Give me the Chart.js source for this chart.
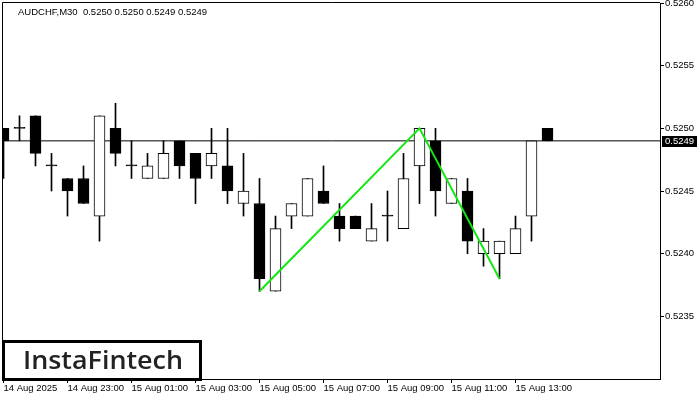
<!DOCTYPE html>
<html>
<head>
<meta charset="utf-8">
<script src="https://cdn.jsdelivr.net/npm/chart.js@4.4.1/dist/chart.umd.min.js"></script>
<style>
  html, body { margin: 0; padding: 0; background: #fff; }
  #wrap { width: 700px; height: 400px; }
</style>
</head>
<body>
<div id="wrap"><canvas id="candleChart" width="700" height="400"></canvas></div>
<script>
// AUDCHF M30 candles, 14 Aug 21:00 .. 15 Aug 14:00
const symbol = 'AUDCHF';
const period = 'M30';
const opens  = [0.5250, 0.5250, 0.5251, 0.5247, 0.5246, 0.5246, 0.5243, 0.5250, 0.5247, 0.5246,
                0.5246, 0.5249, 0.5248, 0.5247, 0.5247, 0.5244, 0.5244, 0.5237, 0.5243, 0.5243,
                0.5245, 0.5243, 0.5243, 0.5241, 0.5243, 0.5242, 0.5247, 0.5249, 0.5244, 0.5245,
                0.5240, 0.5240, 0.5240, 0.5243, 0.5250];
const highs  = [0.5250, 0.5251, 0.5251, 0.5248, 0.5246, 0.5247, 0.5251, 0.5252, 0.5249, 0.5248,
                0.5249, 0.5249, 0.5248, 0.5250, 0.5250, 0.5248, 0.5246, 0.5243, 0.5244, 0.5246,
                0.5247, 0.5244, 0.5243, 0.5244, 0.5245, 0.5248, 0.5250, 0.5250, 0.5246, 0.5246,
                0.5242, 0.5241, 0.5243, 0.5249, 0.5250];
const lows   = [0.5246, 0.5249, 0.5247, 0.5245, 0.5243, 0.5244, 0.5241, 0.5247, 0.5246, 0.5246,
                0.5246, 0.5246, 0.5244, 0.5246, 0.5244, 0.5243, 0.5237, 0.5237, 0.5242, 0.5243,
                0.5244, 0.5241, 0.5242, 0.5241, 0.5241, 0.5242, 0.5244, 0.5243, 0.5244, 0.5240,
                0.5239, 0.5238, 0.5240, 0.5241, 0.5249];
const closes = [0.5249, 0.5250, 0.5248, 0.5247, 0.5245, 0.5244, 0.5251, 0.5248, 0.5247, 0.5247,
                0.5248, 0.5247, 0.5246, 0.5248, 0.5245, 0.5245, 0.5238, 0.5242, 0.5244, 0.5246,
                0.5244, 0.5242, 0.5242, 0.5242, 0.5243, 0.5246, 0.5250, 0.5245, 0.5246, 0.5241,
                0.5241, 0.5241, 0.5242, 0.5249, 0.5249];

const tickIndex  = [0, 4, 8, 12, 16, 20, 24, 28, 32];
const tickLabels = ['14 Aug 2025', '14 Aug 23:00', '15 Aug 01:00', '15 Aug 03:00', '15 Aug 05:00',
                    '15 Aug 07:00', '15 Aug 09:00', '15 Aug 11:00', '15 Aug 13:00'];
const priceTicks = [0.5235, 0.5240, 0.5245, 0.5250, 0.5255, 0.5260];

// double top pattern line
const patternX = [16, 26, 31];
const patternY = [0.5237, 0.5250, 0.5238];

const lastPrice = closes[closes.length - 1];
const xMin = -1 / 32;
const xMax = 657 / 16 - 1 / 32;

const fontFamily = "'Liberation Sans', Arial, sans-serif";
Chart.defaults.font.family = fontFamily;
Chart.defaults.font.size = 9.5;
Chart.defaults.color = '#000';

const overlay = {
    id: 'overlay',
    beforeDatasetsDraw(chart) {
        const { ctx, chartArea } = chart;
        ctx.save();
        ctx.strokeStyle = '#000';
        ctx.lineWidth = 1;
        ctx.beginPath();
        ctx.moveTo(chartArea.left - 0.5, chartArea.bottom);
        ctx.lineTo(chartArea.left - 0.5, chartArea.top - 0.5);
        ctx.lineTo(chartArea.right, chartArea.top - 0.5);
        ctx.stroke();
        ctx.restore();
    },
    afterDraw(chart) {
        const { ctx, chartArea, scales } = chart;
        const n = opens.length - 1;
        ctx.save();

        // header
        ctx.font = '9.5px ' + fontFamily;
        ctx.fillStyle = '#000';
        ctx.textBaseline = 'middle';
        ctx.textAlign = 'left';
        const header = `${symbol},${period}  ${opens[n].toFixed(4)} ${highs[n].toFixed(4)} ${lows[n].toFixed(4)} ${closes[n].toFixed(4)}`;
        ctx.fillText(header, 18, 12);

        // last price label on the axis
        const py = Math.round(scales.y.getPixelForValue(lastPrice));
        ctx.fillStyle = '#000';
        ctx.fillRect(chartArea.right + 2, py - 5, 35, 11);
        ctx.fillStyle = '#fff';
        ctx.fillText(lastPrice.toFixed(4), chartArea.right + 5, py + 0.5);

        // logo box
        ctx.fillStyle = '#fff';
        ctx.fillRect(3, 341, 198, 38);
        ctx.strokeStyle = '#000';
        ctx.lineWidth = 3;
        ctx.strokeRect(3.5, 341.5, 197, 38);
        ctx.fillStyle = '#222';
        ctx.font = '600 26px "Open Sans", sans-serif';
        ctx.textBaseline = 'alphabetic';
        const logo = 'InstaFintech';
        const w = ctx.measureText(logo).width;
        ctx.translate(23, 369);
        ctx.scale(160 / w, 1);
        ctx.fillText(logo, 0, 0);
        ctx.restore();
    }
};

const ctx = document.getElementById('candleChart');

new Chart(ctx, {
    type: 'bar',
    data: {
        datasets: [
            {
                type: 'line',
                label: 'pattern',
                data: patternX.map((x, i) => ({ x: x, y: patternY[i] })),
                borderColor: '#10e810',
                borderWidth: 2,
                pointRadius: 0,
                tension: 0,
                order: 0
            },
            {
                label: 'body',
                data: opens.map((o, i) => ({ x: i, y: [o, closes[i]] })),
                backgroundColor: opens.map((o, i) => closes[i] > o ? '#fff' : '#000'),
                borderColor: '#000',
                borderWidth: 1,
                borderSkipped: false,
                barThickness: 11,
                minBarLength: 1,
                grouped: false,
                order: 1
            },
            {
                label: 'wick',
                data: lows.map((l, i) => ({ x: i, y: [l, highs[i]] })),
                backgroundColor: '#000',
                borderWidth: 0,
                barThickness: 1,
                grouped: false,
                order: 2
            },
            {
                type: 'line',
                label: 'last',
                data: [{ x: xMin, y: lastPrice }, { x: xMax, y: lastPrice }],
                borderColor: '#000',
                borderWidth: 1,
                pointRadius: 0,
                order: 3
            }
        ]
    },
    options: {
        responsive: false,
        animation: false,
        events: [],
        layout: { padding: { left: 3, top: 3, right: 0, bottom: 0 } },
        plugins: {
            legend: { display: false },
            tooltip: { enabled: false }
        },
        scales: {
            x: {
                type: 'linear',
                min: xMin,
                max: xMax,
                offset: false,
                afterBuildTicks: (scale) => {
                    scale.ticks = tickIndex.map(v => ({ value: v }));
                },
                afterFit: (scale) => {
                    scale.height = 21;
                    scale.paddingLeft = 0;
                    scale.paddingRight = 0;
                },
                ticks: {
                    autoSkip: false,
                    maxRotation: 0,
                    align: 'start',
                    padding: 0,
                    callback: (value) => tickLabels[tickIndex.indexOf(value)]
                },
                grid: {
                    offset: false,
                    drawOnChartArea: false,
                    drawTicks: true,
                    tickLength: 4,
                    color: '#000'
                },
                border: { display: true, color: '#000' }
            },
            y: {
                position: 'right',
                min: 0.5230,
                max: 0.5260,
                beginAtZero: false,
                afterBuildTicks: (scale) => {
                    scale.ticks = priceTicks.map(v => ({ value: v }));
                },
                afterFit: (scale) => {
                    scale.width = 40;
                    scale.paddingTop = 0;
                    scale.paddingBottom = 0;
                },
                ticks: {
                    padding: 1,
                    callback: (value) => value.toFixed(4)
                },
                grid: {
                    drawOnChartArea: false,
                    drawTicks: true,
                    tickLength: 4,
                    color: '#000'
                },
                border: { display: true, color: '#000' }
            }
        }
    },
    plugins: [overlay]
});
</script>
</body>
</html>
